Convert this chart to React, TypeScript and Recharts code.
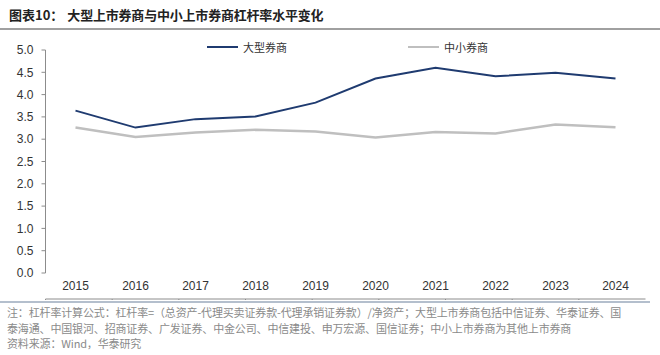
import { LineChart, Line, XAxis, YAxis } from "recharts";

const years = ["2015", "2016", "2017", "2018", "2019", "2020", "2021", "2022", "2023", "2024"];
const largeBrokers = [3.64, 3.26, 3.45, 3.51, 3.82, 4.36, 4.6, 4.41, 4.49, 4.36];
const smallBrokers = [3.26, 3.05, 3.15, 3.21, 3.17, 3.04, 3.16, 3.13, 3.33, 3.27];
const yTicks = [0, 0.5, 1, 1.5, 2, 2.5, 3, 3.5, 4, 4.5, 5];
const edgeTicks = [0, 1, 2, 3, 4, 5, 6, 7, 8, 9, 10];

const title = "图表10：";
const subtitle = "大型上市券商与中小上市券商杠杆率水平变化";
const seriesNames = ["大型券商", "中小券商"];
const notes = [
  "注：杠杆率计算公式：杠杆率=（总资产-代理买卖证券款-代理承销证券款）/净资产；大型上市券商包括中信证券、华泰证券、国",
  "泰海通、中国银河、招商证券、广发证券、中金公司、中信建投、申万宏源、国信证券；中小上市券商为其他上市券商",
  "资料来源：Wind，华泰研究",
];

const data = years.map((year, i) => ({
  year,
  large: largeBrokers[i],
  small: smallBrokers[i],
}));

const BLUE = "#1f3b70";
const GRAY = "#bfbfbf";
const AXIS = "#8c8c8c";
const CJK = '"Noto Sans CJK SC", sans-serif';
const LATIN = '"Liberation Sans", Arial, sans-serif';

function LegendItem({ color, label, left }: { color: string; label: string; left: number }) {
  return (
    <div style={{ position: "absolute", left, top: 39, display: "flex", alignItems: "center" }}>
      <div style={{ width: 31, height: 2, background: color }} />
      <span style={{ marginLeft: 5, fontSize: 11, color: "#333", fontFamily: CJK, lineHeight: "16px" }}>
        {label}
      </span>
    </div>
  );
}

// boundary axis only draws the line + tick marks between categories
const NoLabel = () => <g />;

export default function App() {
  return (
    <div style={{ position: "absolute", left: 0, top: 0, width: 660, height: 355, background: "#fff", overflow: "hidden" }}>
      <div
        style={{
          position: "absolute",
          left: 9,
          top: 6,
          fontFamily: CJK,
          fontWeight: 700,
          fontSize: 13,
          color: "#222",
          whiteSpace: "nowrap",
          lineHeight: "18px",
        }}
      >
        <span>{title}</span>
        <span style={{ marginLeft: 4, letterSpacing: -0.2 }}>{subtitle}</span>
      </div>
      <div style={{ position: "absolute", left: 0, top: 28, width: 660, height: 2, background: "#a0a0a0" }} />

      <LegendItem color={BLUE} label={seriesNames[0]} left={207} />
      <LegendItem color={GRAY} label={seriesNames[1]} left={408} />

      <div style={{ position: "absolute", left: 0, top: 0 }}>
        <LineChart width={660} height={300} data={data} margin={{ top: 50, right: 14.5, bottom: 0, left: 0 }}>
          <XAxis
            xAxisId="edge"
            type="number"
            domain={[0, 10]}
            ticks={edgeTicks}
            allowDataOverflow
            height={1}
            tick={NoLabel}
            tickSize={4}
            axisLine={{ stroke: AXIS }}
            tickLine={{ stroke: AXIS }}
          />
          <XAxis
            dataKey="year"
            height={26}
            padding={{ left: 30, right: 30 }}
            axisLine={false}
            tickLine={false}
            tickSize={6}
            tickMargin={2}
            interval={0}
            tick={{ fontSize: 12, fill: "#333", fontFamily: LATIN }}
          />
          <YAxis
            width={45.5}
            domain={[0, 5]}
            ticks={yTicks}
            interval={0}
            tickFormatter={(v: number) => v.toFixed(1)}
            axisLine={{ stroke: AXIS }}
            tickLine={{ stroke: AXIS }}
            tickSize={4}
            tickMargin={8}
            tick={{ fontSize: 12, fill: "#333", fontFamily: LATIN }}
          />
          <Line
            dataKey="large"
            name={seriesNames[0]}
            stroke={BLUE}
            strokeWidth={2}
            dot={false}
            isAnimationActive={false}
          />
          <Line
            dataKey="small"
            name={seriesNames[1]}
            stroke={GRAY}
            strokeWidth={2.5}
            dot={false}
            isAnimationActive={false}
          />
        </LineChart>
      </div>

      <div style={{ position: "absolute", left: 0, top: 301, width: 650, height: 2, background: "#b4bfcd" }} />
      <div
        style={{
          position: "absolute",
          left: 7,
          top: 305,
          fontFamily: CJK,
          fontSize: 11,
          color: "#8a8a8a",
          lineHeight: "15.5px",
          whiteSpace: "nowrap",
          letterSpacing: -0.15,
        }}
      >
        {notes.map((n) => (
          <div key={n}>{n}</div>
        ))}
      </div>
    </div>
  );
}
